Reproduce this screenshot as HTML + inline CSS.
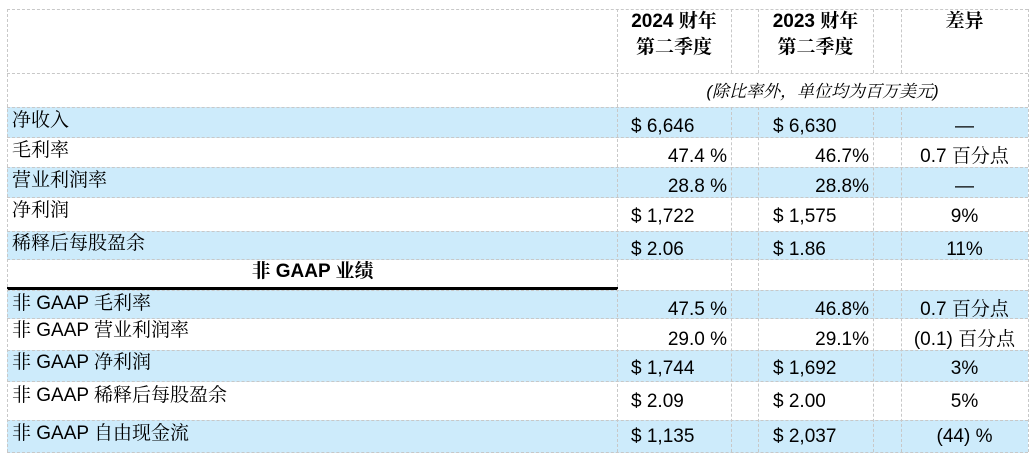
<!DOCTYPE html>
<html><head><meta charset="utf-8"><style>
body{margin:0;width:1033px;height:453px;background:#fff;position:relative;overflow:hidden;font-family:"Liberation Sans","Noto Serif CJK SC",serif;font-size:19px;color:#000}
.r{position:absolute;left:7px;width:1021px;border-top:1px dashed #c8c8c8}
.b{background:#cdebfb}
.v{position:absolute;border-left:1px dashed #c8c8c8}
.t{position:absolute;white-space:nowrap;line-height:22px}
.c{text-align:center}
.rt{text-align:right}
.n{transform:scaleX(0.9);transform-origin:left}
</style></head><body>
<div class="r" style="top:9px;height:64px"></div>
<div class="r" style="top:73px;height:34px"></div>
<div class="r b" style="top:107px;height:30px"></div>
<div class="r" style="top:137px;height:30px"></div>
<div class="r b" style="top:167px;height:30px"></div>
<div class="r" style="top:197px;height:34px"></div>
<div class="r b" style="top:231px;height:28px"></div>
<div class="r" style="top:259px;height:31px"></div>
<div class="r b" style="top:290px;height:28px"></div>
<div class="r" style="top:318px;height:32px"></div>
<div class="r b" style="top:350px;height:31px"></div>
<div class="r" style="top:381px;height:39px"></div>
<div class="r b" style="top:420px;height:31px;border-bottom:1px dashed #c8c8c8"></div>
<div style="position:absolute;left:7px;top:287px;width:611px;height:3px;background:#000"></div>
<div class="v" style="left:7px;top:9px;height:443px"></div>
<div class="v" style="left:617px;top:9px;height:443px"></div>
<div class="v" style="left:731px;top:9px;height:64px"></div>
<div class="v" style="left:731px;top:107px;height:345px"></div>
<div class="v" style="left:758px;top:9px;height:64px"></div>
<div class="v" style="left:758px;top:107px;height:345px"></div>
<div class="v" style="left:873px;top:9px;height:64px"></div>
<div class="v" style="left:873px;top:107px;height:345px"></div>
<div class="v" style="left:901px;top:9px;height:64px"></div>
<div class="v" style="left:901px;top:107px;height:345px"></div>
<div class="v" style="left:1028px;top:9px;height:443px"></div>

<div class="t c" style="left:617px;width:114px;top:11px;font-weight:bold">2024 财年</div>
<div class="t c" style="left:617px;width:114px;top:37px;font-weight:bold">第二季度</div>
<div class="t c" style="left:758px;width:115px;top:11px;font-weight:bold">2023 财年</div>
<div class="t c" style="left:758px;width:115px;top:37px;font-weight:bold">第二季度</div>
<div class="t c" style="left:901px;width:127px;top:11px;font-weight:bold">差异</div>
<div class="t c" style="left:617px;width:411px;top:81px;font-style:italic;font-size:17px">(除比率外，单位均为百万美元)</div>

<div class="t" style="left:12px;top:110px">净收入</div>
<div class="t" style="left:12px;top:140px">毛利率</div>
<div class="t" style="left:12px;top:170px">营业利润率</div>
<div class="t" style="left:12px;top:200px">净利润</div>
<div class="t" style="left:12px;top:233px">稀释后每股盈余</div>
<div class="t c" style="left:7px;width:611px;top:261px;font-weight:bold">非 GAAP 业绩</div>
<div class="t" style="left:12px;top:293px">非 GAAP 毛利率</div>
<div class="t" style="left:12px;top:320px">非 GAAP 营业利润率</div>
<div class="t" style="left:12px;top:352px">非 GAAP 净利润</div>
<div class="t" style="left:12px;top:385px">非 GAAP 稀释后每股盈余</div>
<div class="t" style="left:12px;top:423px">非 GAAP 自由现金流</div>

<div class="t" style="left:631px;top:116px">$ 6,646</div>
<div class="t" style="left:773px;top:116px">$ 6,630</div>
<div class="t c" style="left:901px;width:127px;top:116px">—</div>
<div class="t rt" style="left:617px;width:110px;top:146px">47.4 %</div>
<div class="t rt" style="left:758px;width:111px;top:146px">46.7%</div>
<div class="t c" style="left:901px;width:127px;top:146px">0.7 百分点</div>
<div class="t rt" style="left:617px;width:110px;top:176px">28.8 %</div>
<div class="t rt" style="left:758px;width:111px;top:176px">28.8%</div>
<div class="t c" style="left:901px;width:127px;top:176px">—</div>
<div class="t" style="left:631px;top:206px">$ 1,722</div>
<div class="t" style="left:773px;top:206px">$ 1,575</div>
<div class="t c" style="left:901px;width:127px;top:206px">9%</div>
<div class="t" style="left:631px;top:239px">$ 2.06</div>
<div class="t" style="left:773px;top:239px">$ 1.86</div>
<div class="t c" style="left:901px;width:127px;top:239px">11%</div>

<div class="t rt" style="left:617px;width:110px;top:299px">47.5 %</div>
<div class="t rt" style="left:758px;width:111px;top:299px">46.8%</div>
<div class="t c" style="left:901px;width:127px;top:299px">0.7 百分点</div>
<div class="t rt" style="left:617px;width:110px;top:329px">29.0 %</div>
<div class="t rt" style="left:758px;width:111px;top:329px">29.1%</div>
<div class="t c" style="left:901px;width:127px;top:329px">(0.1) 百分点</div>
<div class="t" style="left:631px;top:358px">$ 1,744</div>
<div class="t" style="left:773px;top:358px">$ 1,692</div>
<div class="t c" style="left:901px;width:127px;top:358px">3%</div>
<div class="t" style="left:631px;top:391px">$ 2.09</div>
<div class="t" style="left:773px;top:391px">$ 2.00</div>
<div class="t c" style="left:901px;width:127px;top:391px">5%</div>
<div class="t" style="left:631px;top:426px">$ 1,135</div>
<div class="t" style="left:773px;top:426px">$ 2,037</div>
<div class="t c" style="left:901px;width:127px;top:426px">(44) %</div>
</body></html>
